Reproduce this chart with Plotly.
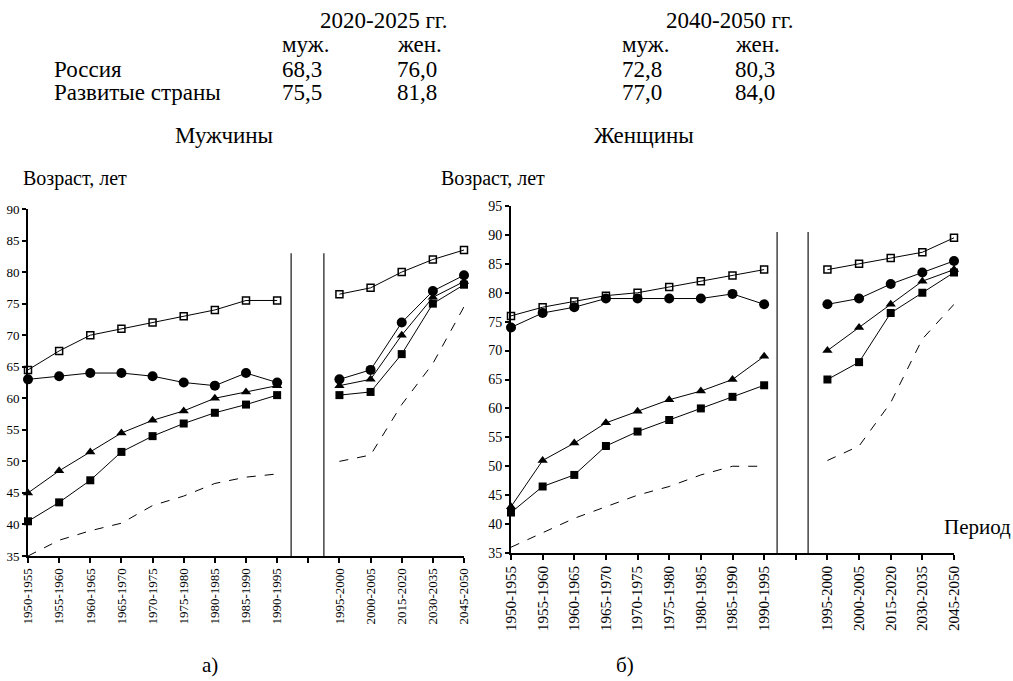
import plotly.graph_objects as go

W, H = 1013, 681

hist_periods = ["1950-1955", "1955-1960", "1960-1965", "1965-1970", "1970-1975",
                "1975-1980", "1980-1985", "1985-1990", "1990-1995"]
future_periods = ["1995-2000", "2000-2005", "2015-2020", "2030-2035", "2045-2050"]
gap_label = " "
all_categories = hist_periods + [gap_label] + future_periods

# Men
men_open_sq_hist = [64.5, 67.5, 70, 71, 72, 73, 74, 75.5, 75.5]
men_circle_hist = [63, 63.5, 64, 64, 63.5, 62.5, 62, 64, 62.5]
men_triangle_hist = [45, 48.5, 51.5, 54.5, 56.5, 58, 60, 61, 62]
men_fill_sq_hist = [40.5, 43.5, 47, 51.5, 54, 56, 57.7, 59, 60.5]
men_dash_hist = [35, 37.5, 39, 40.2, 43, 44.5, 46.5, 47.5, 48]

men_open_sq_fut = [76.5, 77.5, 80, 82, 83.5]
men_circle_fut = [63, 64.5, 72, 77, 79.5]
men_triangle_fut = [62, 63, 70, 76, 78.5]
men_fill_sq_fut = [60.5, 61, 67, 75, 78]
men_dash_fut = [50, 51, 59, 65.5, 74.5]

# Women
wom_open_sq_hist = [76, 77.5, 78.5, 79.5, 80, 81, 82, 83, 84]
wom_circle_hist = [74, 76.5, 77.5, 79, 79, 79, 79, 79.8, 78]
wom_triangle_hist = [43, 51, 54, 57.5, 59.5, 61.5, 63, 65, 69]
wom_fill_sq_hist = [42, 46.5, 48.5, 53.5, 56, 58, 60, 62, 64]
wom_dash_hist = [36, 38.5, 41, 43, 45, 46.5, 48.5, 50, 50]

wom_open_sq_fut = [84, 85, 86, 87, 89.5]
wom_circle_fut = [78, 79, 81.5, 83.5, 85.5]
wom_triangle_fut = [70, 74, 78, 82, 84]
wom_fill_sq_fut = [65, 68, 76.5, 80, 83.5]
wom_dash_fut = [51, 53.5, 61, 72, 78]

table_header = ["2020-2025 гг.", "2040-2050 гг."]
table_sex = ["муж.", "жен."]
table_rows = ["Россия", "Развитые страны"]
table_vals_2020 = [["68,3", "76,0"], ["75,5", "81,8"]]
table_vals_2040 = [["72,8", "80,3"], ["77,0", "84,0"]]

FONT = "Liberation Serif, Times New Roman, DejaVu Serif, serif"
fig = go.Figure()

styles = [
    ("dash", dict(mode="lines", line=dict(color="black", width=1, dash="dash"))),
    ("fsq", dict(mode="lines+markers", line=dict(color="black", width=1),
                 marker=dict(symbol="square", size=8, color="black"))),
    ("tri", dict(mode="lines+markers", line=dict(color="black", width=1),
                 marker=dict(symbol="triangle-up", size=9, color="black"))),
    ("circ", dict(mode="lines+markers", line=dict(color="black", width=1),
                  marker=dict(symbol="circle", size=10, color="black"))),
    ("osq", dict(mode="lines+markers", line=dict(color="black", width=1),
                 marker=dict(symbol="square-open", size=7, color="black",
                             line=dict(width=1.5, color="black")))),
]

men = {
    "dash": (men_dash_hist, men_dash_fut),
    "fsq": (men_fill_sq_hist, men_fill_sq_fut),
    "tri": (men_triangle_hist, men_triangle_fut),
    "circ": (men_circle_hist, men_circle_fut),
    "osq": (men_open_sq_hist, men_open_sq_fut),
}
wom = {
    "dash": (wom_dash_hist, wom_dash_fut),
    "fsq": (wom_fill_sq_hist, wom_fill_sq_fut),
    "tri": (wom_triangle_hist, wom_triangle_fut),
    "circ": (wom_circle_hist, wom_circle_fut),
    "osq": (wom_open_sq_hist, wom_open_sq_fut),
}

for data, xa, ya in [(men, "x", "y"), (wom, "x2", "y2")]:
    for key, st in styles:
        h, f = data[key]
        fig.add_trace(go.Scatter(x=hist_periods, y=h, xaxis=xa, yaxis=ya,
                                 showlegend=False, cliponaxis=False, hoverinfo="skip", **st))
        fig.add_trace(go.Scatter(x=future_periods, y=f, xaxis=xa, yaxis=ya,
                                 showlegend=False, cliponaxis=False, hoverinfo="skip", **st))


def px(x, y):
    return x / W, 1 - y / H


def dom_x(a, b):
    return [a / W, b / W]


def dom_y(top, bottom):
    return [1 - bottom / H, 1 - top / H]


xcommon = dict(type="category", categoryorder="array", categoryarray=all_categories,
               range=[0, len(all_categories) - 1], tickangle=-90, ticks="outside",
               ticklen=5, tickwidth=1.5, tickcolor="black", showline=True,
               linecolor="black", linewidth=2, showgrid=False, zeroline=False,
               automargin=False, fixedrange=True)
ycommon = dict(ticks="outside", ticklen=4, tickwidth=1.5, tickcolor="black",
               showline=True, linecolor="black", linewidth=2, showgrid=False,
               zeroline=False, dtick=5, automargin=False, fixedrange=True)

fig.update_layout(
    width=W, height=H, margin=dict(l=0, r=0, t=0, b=0, autoexpand=False),
    paper_bgcolor="white", plot_bgcolor="white",
    font=dict(family=FONT, color="black"),
    hovermode=False,
    xaxis=dict(domain=dom_x(28, 464), anchor="y",
               tickfont=dict(size=13, family=FONT, color="black"), **xcommon),
    yaxis=dict(domain=dom_y(209, 556), anchor="x", range=[35, 90],
               tickfont=dict(size=13, family=FONT, color="black"), **ycommon),
    xaxis2=dict(domain=dom_x(511, 954), anchor="y2",
                tickfont=dict(size=15, family=FONT, color="black"), **xcommon),
    yaxis2=dict(domain=dom_y(206, 553), anchor="x2", range=[35, 95],
                tickfont=dict(size=14, family=FONT, color="black"), **ycommon),
)

# separator lines
for xa, ya, x0, x1, ytop in [("x", "y", 8.45, 9.5, 83), ("x2", "y2", 8.41, 9.39, 90.5)]:
    for xv in (x0, x1):
        fig.add_shape(type="line", xref=xa, yref=ya, x0=xv, x1=xv, y0=35, y1=ytop,
                      line=dict(color="#444444", width=1.5))

ann = []


def text(t, x, y, xanchor="left", size=23):
    ax, ay = px(x, y)
    ann.append(dict(text=t, x=ax, y=ay, xref="paper", yref="paper", xanchor=xanchor,
                    yanchor="middle", showarrow=False,
                    font=dict(size=size, family=FONT, color="black")))


text(table_header[0], 383, 20, "center")
text(table_header[1], 729, 20, "center")
for cx, vals in [((280, 395), table_vals_2020), ((620, 733), table_vals_2040)]:
    text(table_sex[0], cx[0], 45)
    text(table_sex[1], cx[1], 45)
    for i, ry in enumerate((69, 93)):
        text(vals[i][0], cx[0], ry)
        text(vals[i][1], cx[1], ry)
text(table_rows[0], 52, 69)
text(table_rows[1], 52, 93)
text("Мужчины", 224, 135, "center")
text("Женщины", 644, 135, "center")
text("Возраст, лет", 21, 178, size=20)
text("Возраст, лет", 439, 178, size=20)
text("Период", 942, 527, size=21)
text("а)", 210, 665, "center", size=21)
text("б)", 625, 665, "center", size=21)

fig.update_layout(annotations=ann)
fig.write_html("out.html", config={"displayModeBar": False},
               post_script="document.body.style.margin='0px';document.body.style.padding='0px';")
